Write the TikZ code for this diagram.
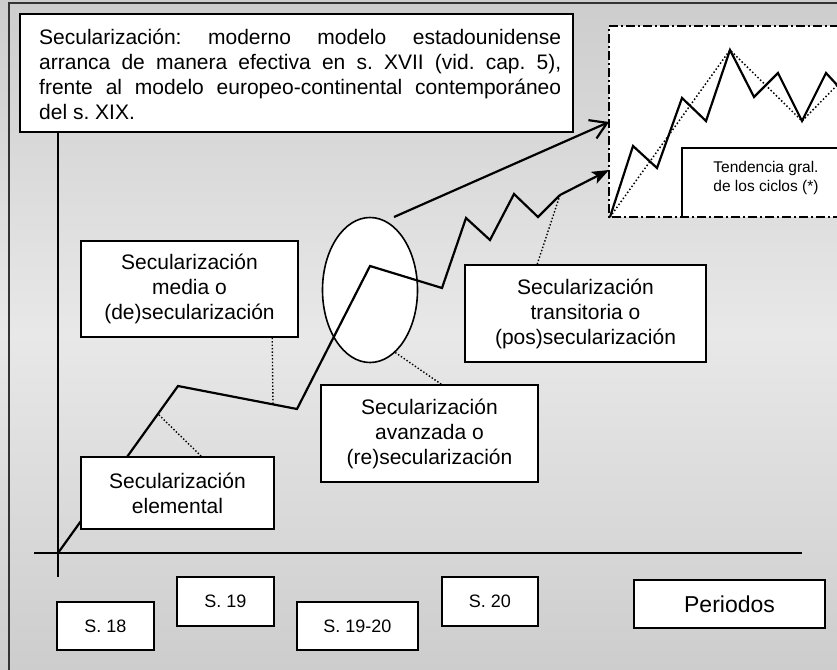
\documentclass[tikz,border=0pt]{standalone}
\usepackage{fontspec}
\setmainfont{Liberation Sans}
\usetikzlibrary{shapes.geometric,arrows.meta,calc}
\definecolor{bgedge}{HTML}{CDCDCD}
\definecolor{bgmid}{HTML}{E8E8E8}
\definecolor{framec}{HTML}{333333}
\frenchspacing
\begin{document}
\begin{tikzpicture}[x=1pt,y=-1pt,
  box/.style={draw=black, fill=white, line width=1.6pt, inner sep=0pt, align=center, font=\fontsize{21}{25}\selectfont},
  per/.style={draw=black, fill=white, line width=1.6pt, inner sep=0pt, font=\fontsize{18}{21}\selectfont},
  trend/.style={line width=2.2pt, line join=miter},
  leader/.style={line width=1.4pt, dash pattern=on 1.4pt off 2pt},
  trenddot/.style={line width=1.5pt, dash pattern=on 1.5pt off 2.2pt},
  axis/.style={line width=1.6pt},
  dashdot/.style={line width=2pt, dash pattern=on 9pt off 3pt on 2pt off 3pt}]
\useasboundingbox (0,0) rectangle (837,669);
\begin{scope}
\clip (0,0) rectangle (837,669);
\shade[top color=bgedge, bottom color=bgedge, middle color=bgmid] (0,0) rectangle (837,669);
\draw[line width=1.6pt, draw=framec] (9,3) rectangle (850,680);

% top explanatory box
\node[box, anchor=north west, minimum width=553, minimum height=118] (topbox) at (19,13) {};
\node[anchor=north west, inner sep=0pt, text width=522pt, align=justify,
      font=\fontsize{21}{25}\selectfont] (toptext) at (39,28.5)
  {\frenchspacing\hyphenpenalty=10000 Secularización: moderno modelo estadounidense\linebreak
   arranca de manera efectiva en s. XVII (vid. cap. 5),\linebreak
   frente al modelo europeo-continental contemporáneo\linebreak
   del s. XIX.};

% axes
\coordinate (o) at (58,553);
\coordinate (ybot) at (58,577);
\coordinate (xl) at (34,553);
\coordinate (xr) at (802,553);
\draw[axis] (topbox.south -| o) -- (ybot);
\draw[axis] (xl) -- (xr);

% inset
\node[fill=white, inner sep=0pt, anchor=north west, minimum width=250, minimum height=191] (inset) at (609,26) {};
\coordinate (i0) at (610,217);
\coordinate (i1) at (633,146);
\coordinate (i2) at (657,168);
\coordinate (i3) at (682,98);
\coordinate (i4) at (706,121);
\coordinate (i5) at (730,50);
\coordinate (i6) at (754,97);
\coordinate (i7) at (778,73);
\coordinate (i8) at (802,121);
\coordinate (i9) at (826,73);
\coordinate (i10) at (850,99);
\coordinate (t3) at (850,72);
\node[fill=white, inner sep=0pt, anchor=north west, minimum width=168, minimum height=68] (tend) at (682,148) {};
\draw[line width=1.4pt] (tend.south west) -- (tend.north west) -- (tend.north east);
\node[inner sep=0pt, align=center, font=\fontsize{15.5}{19}\selectfont] (tendtext) at (766,177.5) {Tendencia gral.\\de los ciclos (*)};
\draw[trenddot] (i0) -- (i5) -- (i8) -- (t3);
\draw[trend] (i0) -- (i1) -- (i2) -- (i3) -- (i4) -- (i5) -- (i6) -- (i7) -- (i8) -- (i9) -- (i10);
\draw[dashdot] (inset.south east) -- (inset.south west) -- (inset.north west) -- (inset.north east);

% ellipse
\node[ellipse, draw, fill=white, line width=1.6pt, inner sep=0pt, minimum width=95, minimum height=145] (ell) at (370,290) {};

% main trajectory
\coordinate (m1) at (178,386);
\coordinate (m2) at (297,409);
\coordinate (m3) at (370,266);
\coordinate (m4) at (442,288);
\coordinate (m5) at (466,218);
\coordinate (m6) at (490,240);
\coordinate (m7) at (514,194);
\coordinate (m8) at (538,217);
\coordinate (m9) at (560,195);
\coordinate (tipB) at (609,170);
\coordinate (arrA) at (394,217);
\coordinate (tipA) at (609,122);
\draw[trend] (o) -- (m1) -- (m2) -- (m3) -- (m4) -- (m5) -- (m6) -- (m7) -- (m8) -- (m9);
\draw[trend, -{Stealth[length=17pt,width=13pt,inset=4pt]}] (m9) -- (tipB);
\draw[trend, -{Straight Barb[length=16pt,width=20pt]}] (arrA) -- (tipA);

% boxes
\node[box, minimum width=193, minimum height=72] (elem) at (177.5,493) {Secularización\\elemental};
\node[box, minimum width=217, minimum height=96] (media) at (189.5,289) {Secularización\\media o\\(de)secularización};
\node[box, minimum width=217, minimum height=97] (avz) at (429.5,433.5) {Secularización\\avanzada o\\(re)secularización};
\node[box, minimum width=241, minimum height=97] (trans) at (585.5,313.5) {Secularización\\transitoria o\\(pos)secularización};

% leaders
\coordinate (l1) at (158,414);
\coordinate (l2) at (273,404);
\draw[leader] ($(elem.north west)+(121,0)$) -- (l1);
\draw[leader] ($(media.south west)+(192,0)$) -- (l2);
\draw[leader] ($(avz.north west)+(121,0)$) -- (ell.-68);
\draw[leader] ($(trans.north west)+(73,0)$) -- (m9);

% periods
\node[per, minimum width=97, minimum height=48] (s18) at (105.5,626) {S. 18};
\node[per, minimum width=97, minimum height=49] (s19) at (225.5,601.5) {S. 19};
\node[per, minimum width=121, minimum height=48] (s1920) at (357.5,626) {S. 19-20};
\node[per, minimum width=96, minimum height=49] (s20) at (490,601.5) {S. 20};
\node[per, minimum width=191, minimum height=48, font=\fontsize{23}{27}\selectfont] (per) at (729.5,604) {Periodos};
\end{scope}
\end{tikzpicture}
\end{document}
